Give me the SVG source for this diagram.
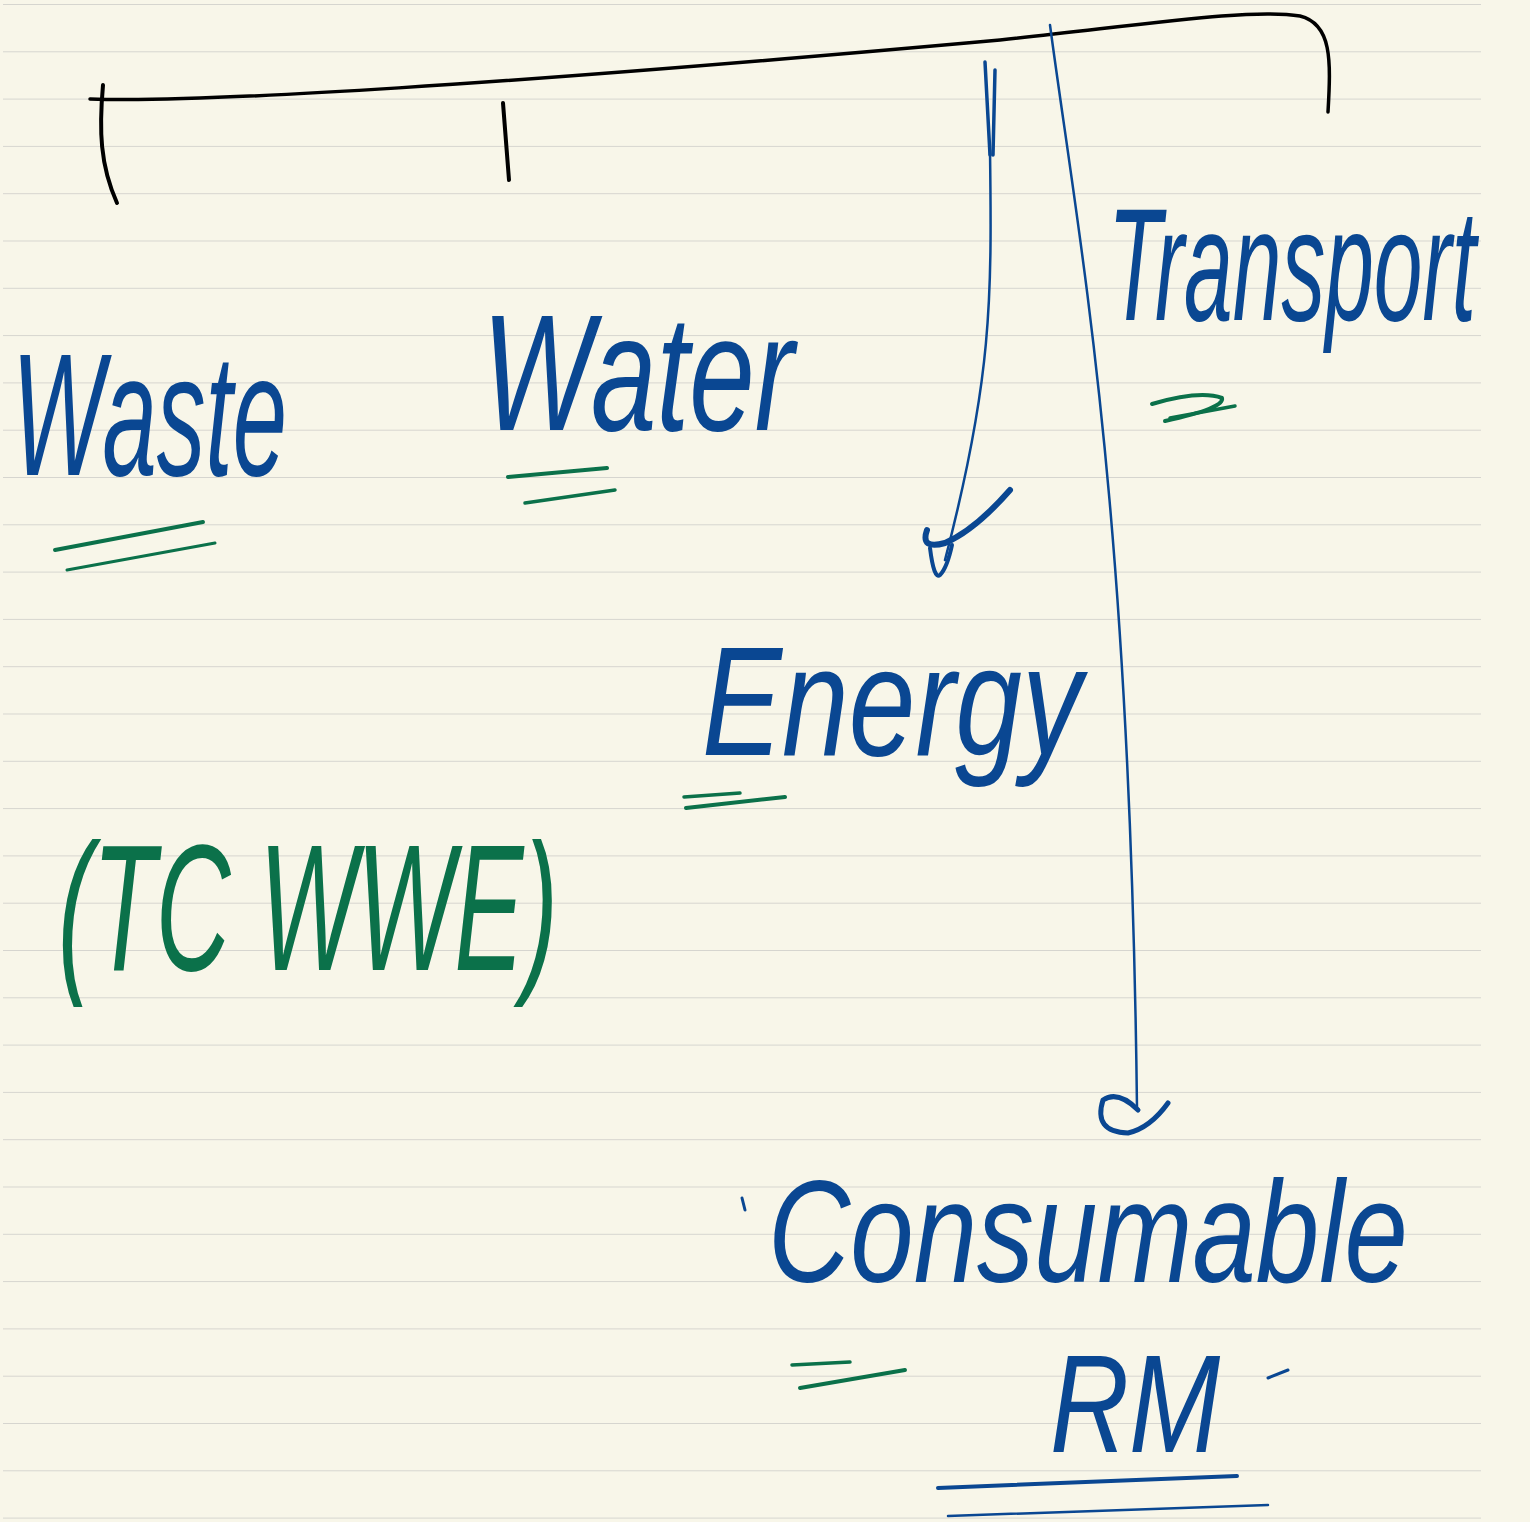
<svg xmlns="http://www.w3.org/2000/svg" width="1530" height="1522" viewBox="0 0 1530 1522">
<defs>
<pattern id="ruled" x="0" y="4" width="1530" height="47.3" patternUnits="userSpaceOnUse">
<rect x="3" y="-1" width="1478" height="2" fill="#d6d5cf"/>
</pattern>
</defs>
<style>
.bg{fill:#f8f6e9}
.ink{fill:none;stroke-linecap:round;stroke-linejoin:round}
.black{stroke:#000}
.blue{stroke:#0a4792}
.green{stroke:#0b714a}
.tb{fill:#0a4792;font-family:"Liberation Sans",Arial,sans-serif;font-style:italic}
.tg{fill:#0b714a;font-family:"Liberation Sans",Arial,sans-serif;font-style:italic}
</style>
<rect class="bg" x="0" y="0" width="1530" height="1522"/>
<rect x="0" y="0" width="1530" height="1522" fill="url(#ruled)"/>

<g id="connectors">
  <path class="ink black" stroke-width="3.5" d="M90,99 C200,103 500,85 1000,40 C1150,24 1250,8 1300,16 C1332,24 1331,60 1328,112"/>
  <path class="ink black" stroke-width="4" d="M103,85 C99,130 100,165 117,203"/>
  <path class="ink black" stroke-width="4" d="M503,103 L509,180"/>
  <path class="ink blue" stroke-width="3.5" d="M985,62 L990,155"/>
  <path class="ink blue" stroke-width="3.5" d="M995,70 L993,155"/>
  <path class="ink blue" stroke-width="2.5" d="M990,150 C992,300 992,380 945,560"/>
  <path class="ink blue" stroke-width="6" d="M927,530 Q920,550 945,543 Q975,530 1010,490"/>
  <path class="ink blue" stroke-width="4" d="M930,548 Q934,580 940,575 Q947,568 952,545"/>
  <path class="ink blue" stroke-width="2.5" d="M1050,25 C1080,250 1130,500 1137,1108"/>
  <path class="ink blue" stroke-width="5" d="M1138,1110 Q1118,1090 1103,1100 Q1093,1132 1128,1133 Q1150,1128 1168,1103"/>
</g>

<g id="node-waste">
  <text class="tb" x="12" y="475" font-size="175" textLength="275" lengthAdjust="spacingAndGlyphs">Waste</text>
  <path class="ink green" stroke-width="4" d="M55,550 L203,522"/>
  <path class="ink green" stroke-width="3" d="M67,570 L215,543"/>
</g>

<g id="node-water">
  <text class="tb" x="482" y="430" font-size="165" textLength="312" lengthAdjust="spacingAndGlyphs">Water</text>
  <path class="ink green" stroke-width="4" d="M508,477 L607,468"/>
  <path class="ink green" stroke-width="3.5" d="M525,503 L615,490"/>
</g>

<g id="node-transport">
  <text class="tb" x="1108" y="320" font-size="160" textLength="368" lengthAdjust="spacingAndGlyphs">Transport</text>
  <path class="ink green" stroke-width="4" d="M1152,404 Q1200,390 1222,398 Q1225,408 1165,421"/>
  <path class="ink green" stroke-width="3.5" d="M1170,418 L1235,406"/>
</g>

<g id="node-energy">
  <text class="tb" x="702" y="755" font-size="155" textLength="380" lengthAdjust="spacingAndGlyphs">Energy</text>
  <path class="ink green" stroke-width="3.5" d="M684,797 L740,793"/>
  <path class="ink green" stroke-width="4" d="M686,808 L785,797"/>
</g>

<g id="node-tcwwe">
  <text class="tg" x="58" y="970" font-size="180" textLength="500" lengthAdjust="spacingAndGlyphs">(TC WWE)</text>
</g>

<g id="node-consumable-rm">
  <path class="ink blue" stroke-width="3" d="M742,1198 L745,1210"/>
  <text class="tb" x="768" y="1282" font-size="145" textLength="640" lengthAdjust="spacingAndGlyphs">Consumable</text>
  <path class="ink green" stroke-width="3.5" d="M792,1365 L850,1362"/>
  <path class="ink green" stroke-width="4" d="M800,1388 L905,1370"/>
  <text class="tb" x="1050" y="1452" font-size="140" textLength="170" lengthAdjust="spacingAndGlyphs">RM</text>
  <path class="ink blue" stroke-width="3" d="M1268,1378 L1288,1370"/>
  <path class="ink blue" stroke-width="4" d="M938,1488 L1237,1476"/>
  <path class="ink blue" stroke-width="2.5" d="M948,1516 L1268,1505"/>
</g>
</svg>
